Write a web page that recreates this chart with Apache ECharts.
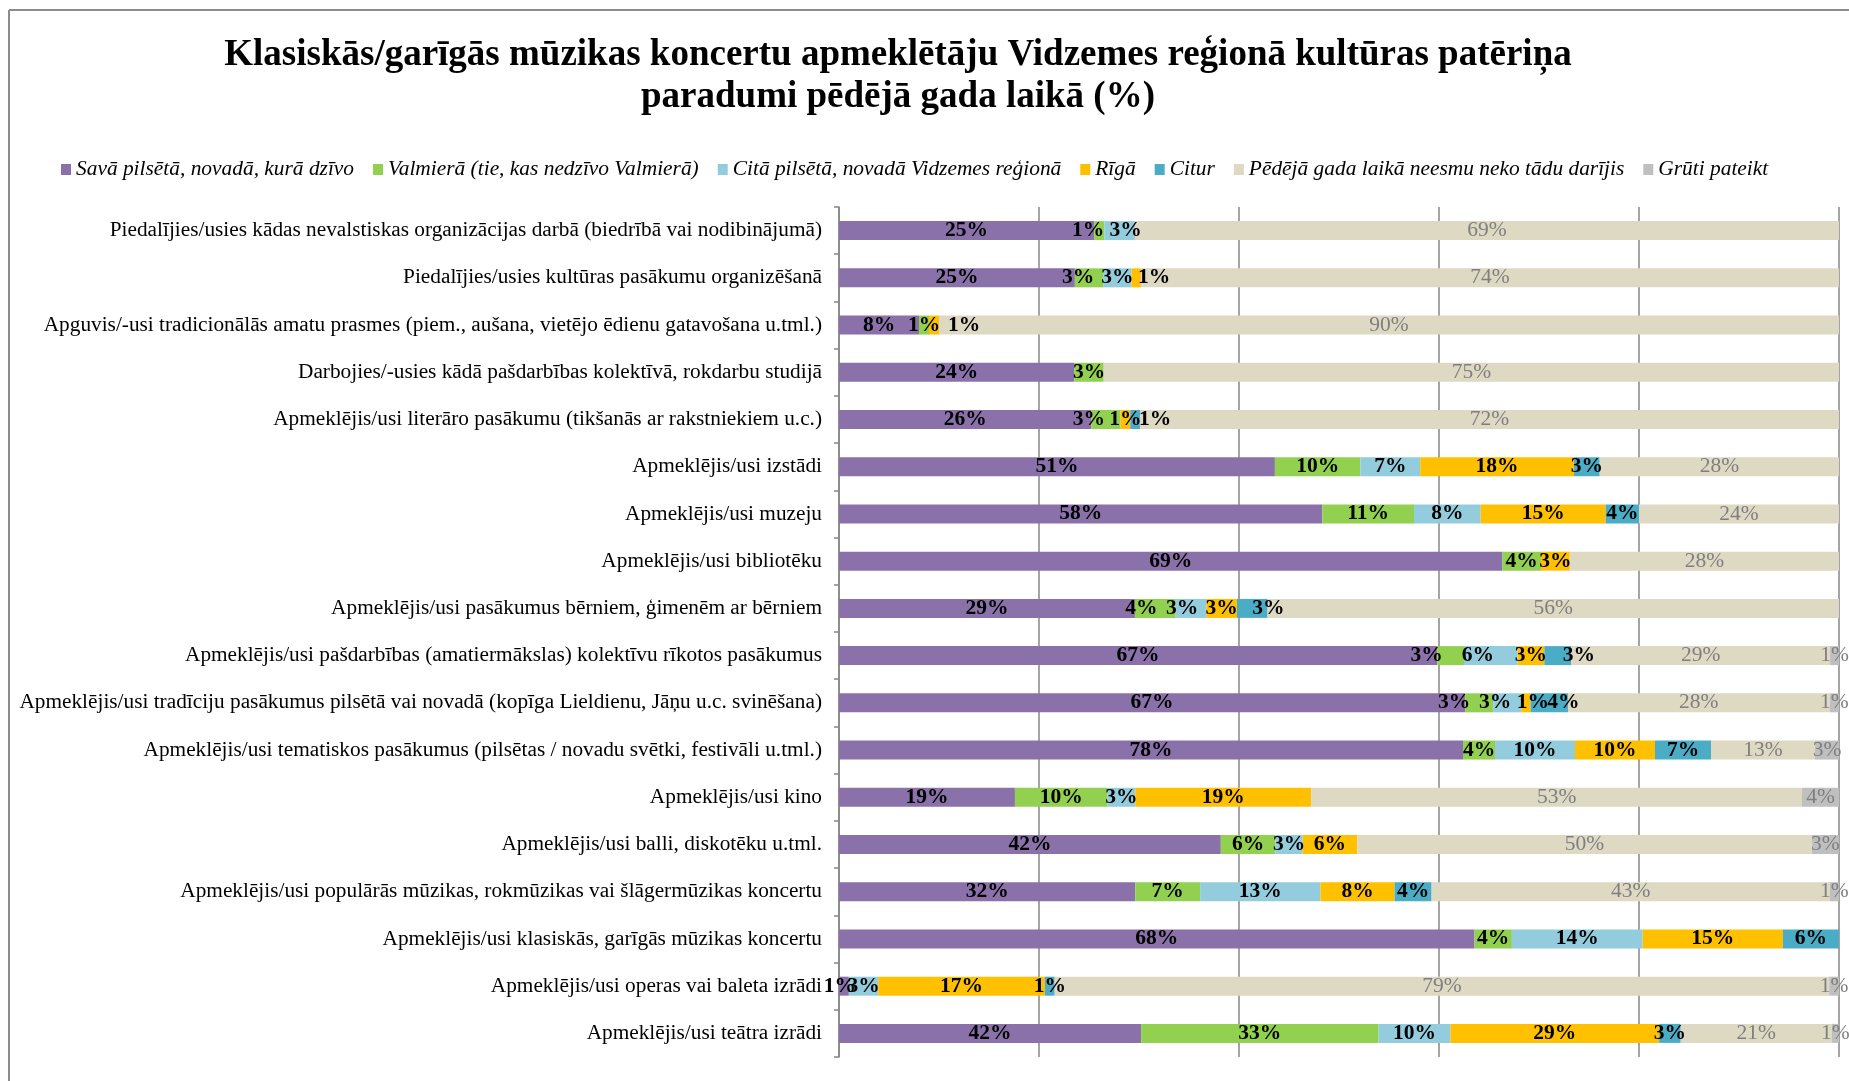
<!DOCTYPE html>
<html>
<head>
<meta charset="utf-8">
<script src="https://cdn.jsdelivr.net/npm/echarts@6/dist/echarts.min.js"></script>
<style>html,body{margin:0;padding:0;background:#fff}#c{width:1849px;height:1081px}</style>
</head>
<body>
<div id="c"></div>
<script>
const titleLines = [
  'Klasiskās/garīgās mūzikas koncertu apmeklētāju Vidzemes reģionā kultūras patēriņa',
  'paradumi pēdējā gada laikā (%)'
];
const categories = [
  'Piedalījies/usies kādas nevalstiskas organizācijas darbā (biedrībā vai nodibinājumā)',
  'Piedalījies/usies kultūras pasākumu organizēšanā',
  'Apguvis/-usi tradicionālās amatu prasmes (piem., aušana, vietējo ēdienu gatavošana u.tml.)',
  'Darbojies/-usies kādā pašdarbības kolektīvā, rokdarbu studijā',
  'Apmeklējis/usi literāro pasākumu (tikšanās ar rakstniekiem u.c.)',
  'Apmeklējis/usi izstādi',
  'Apmeklējis/usi muzeju',
  'Apmeklējis/usi bibliotēku',
  'Apmeklējis/usi pasākumus bērniem, ģimenēm ar bērniem',
  'Apmeklējis/usi pašdarbības (amatiermākslas) kolektīvu rīkotos pasākumus',
  'Apmeklējis/usi tradīciju pasākumus pilsētā vai novadā (kopīga Lieldienu, Jāņu u.c. svinēšana)',
  'Apmeklējis/usi tematiskos pasākumus (pilsētas / novadu svētki, festivāli u.tml.)',
  'Apmeklējis/usi kino',
  'Apmeklējis/usi balli, diskotēku u.tml.',
  'Apmeklējis/usi populārās mūzikas, rokmūzikas vai šlāgermūzikas koncertu',
  'Apmeklējis/usi klasiskās, garīgās mūzikas koncertu',
  'Apmeklējis/usi operas vai baleta izrādi',
  'Apmeklējis/usi teātra izrādi'
];
const seriesNames = [
  'Savā pilsētā, novadā, kurā dzīvo',
  'Valmierā (tie, kas nedzīvo Valmierā)',
  'Citā pilsētā, novadā Vidzemes reģionā',
  'Rīgā',
  'Citur',
  'Pēdējā gada laikā neesmu neko tādu darījis',
  'Grūti pateikt'
];
const savaPilseta = [25, 25, 8, 24, 26, 51, 58, 69, 29, 67, 67, 78, 19, 42, 32, 68, 1, 42];
const valmiera    = [1, 3, 1, 3, 3, 10, 11, 4, 4, 3, 3, 4, 10, 6, 7, 4, null, 33];
const citaPilseta = [3, 3, null, null, null, 7, 8, null, 3, 6, 3, 10, 3, 3, 13, 14, 3, 10];
const riga        = [null, 1, 1, null, 1, 18, 15, 3, 3, 3, 1, 10, 19, 6, 8, 15, 17, 29];
const citur       = [null, null, null, null, 1, 3, 4, null, 3, 3, 4, 7, null, null, 4, 6, 1, 3];
const neesmu      = [69, 74, 90, 75, 72, 28, 24, 28, 56, 29, 28, 13, 53, 50, 43, null, 79, 21];
const gruti       = [null, null, null, null, null, null, null, null, null, 1, 1, 3, 4, 3, 1, null, 1, 1];
const xTicks = [0, 20, 40, 60, 80, 100];

const allValues = [savaPilseta, valmiera, citaPilseta, riga, citur, neesmu, gruti];
const colors = ['#8B71AA', '#92D050', '#93CDDD', '#FFC000', '#4BACC6', '#DDD9C3', '#BFBFBF'];
const totals = categories.map((c, i) => allValues.reduce((s, arr) => s + (arr[i] || 0), 0));

// manual horizontal nudges of some data labels (series-row : px), as in the reference
const labelShift = {
  '1-0': -11, '2-0': 6,
  '1-1': -11, '3-1': 18,
  '3-2': 30,
  '1-4': -17, '4-4': 20,
  '1-8': -14, '2-8': -9, '4-8': 16,
  '1-9': -24, '2-9': -13, '4-9': 21,
  '1-10': -25, '2-10': -12, '3-10': 7, '4-10': 14,
  '0-16': -4
};

const FONT = "'Liberation Serif', 'Times New Roman', serif";

const series = allValues.map((arr, si) => ({
  name: seriesNames[si],
  type: 'bar',
  stack: 'total',
  barWidth: 19,
  itemStyle: { color: colors[si] },
  label: {
    show: true,
    position: 'inside',
    fontFamily: FONT,
    fontSize: 21.5,
    fontWeight: si >= 5 ? 'normal' : 'bold',
    color: si >= 5 ? '#7F7F7F' : '#000',
    formatter: p => (p.data && p.data.raw != null) ? p.data.raw + '%' : ''
  },
  emphasis: { disabled: true },
  data: arr.map((v, i) => {
    if (v == null) return { value: null, raw: null };
    const item = { value: v / totals[i] * 100, raw: v };
    const sh = labelShift[si + '-' + i];
    if (sh) item.label = { offset: [sh, 0] };
    return item;
  })
}));

const chart = echarts.init(document.getElementById('c'), null, { renderer: 'canvas' });
chart.setOption({
  animation: false,
  backgroundColor: '#fff',
  color: colors,
  grid: { left: 839, right: 10, top: 207, bottom: 24, containLabel: false },
  legend: {
    data: seriesNames,
    left: 56,
    top: 154,
    icon: 'rect',
    itemWidth: 10,
    itemHeight: 11,
    itemGap: 19,
    textStyle: { fontFamily: FONT, fontStyle: 'italic', fontSize: 21.4, color: '#000' }
  },
  xAxis: {
    type: 'value',
    min: xTicks[0],
    max: xTicks[xTicks.length - 1],
    interval: 20,
    axisLabel: { show: false },
    axisLine: { show: false },
    axisTick: { show: false },
    splitLine: { show: true, lineStyle: { color: '#868686', width: 1.5 } }
  },
  yAxis: {
    type: 'category',
    inverse: true,
    data: categories,
    axisLine: { show: true, lineStyle: { color: '#868686', width: 1.5 } },
    axisTick: { show: true, length: 5, lineStyle: { color: '#868686', width: 1.5 } },
    axisLabel: { margin: 17, fontFamily: FONT, fontSize: 21.3, color: '#000' }
  },
  graphic: [
    { type: 'line', shape: { x1: 9, y1: 10, x2: 1849, y2: 10 }, style: { stroke: '#8C8C8C', lineWidth: 2 } },
    { type: 'line', shape: { x1: 9, y1: 10, x2: 9, y2: 1081 }, style: { stroke: '#8C8C8C', lineWidth: 2 } },
    { type: 'text', x: 898, y: 55, style: { text: titleLines[0], textAlign: 'center', textVerticalAlign: 'middle', font: "bold 37px " + FONT, fill: '#000' } },
    { type: 'text', x: 898, y: 97, style: { text: titleLines[1], textAlign: 'center', textVerticalAlign: 'middle', font: "bold 37px " + FONT, fill: '#000' } }
  ],
  series: series
});
</script>
</body>
</html>
